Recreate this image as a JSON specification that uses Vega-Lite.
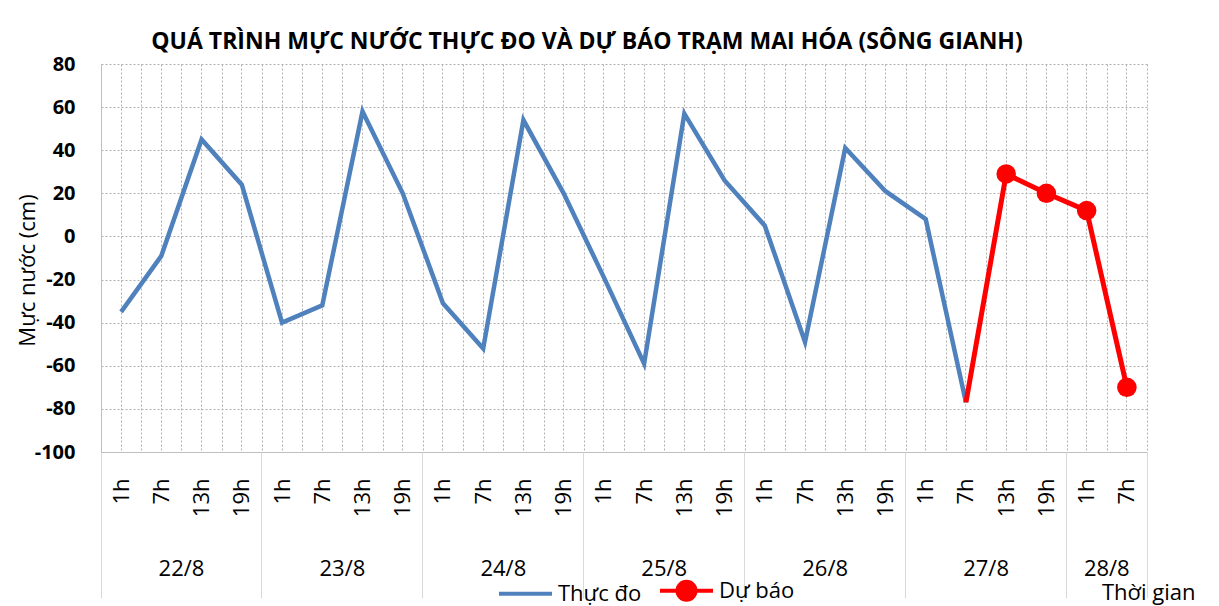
{
  "$schema": "https://vega.github.io/schema/vega-lite/v6.json",
  "width": 1046,
  "height": 388,
  "autosize": {"type": "none"},
  "padding": {"left": 101, "top": 64, "right": 72, "bottom": 154},
  "background": "white",
  "title": {
    "text": "QUÁ TRÌNH MỰC NƯỚC THỰC ĐO VÀ DỰ BÁO TRẠM MAI HÓA (SÔNG GIANH)",
    "font": "Open Sans",
    "fontSize": 23,
    "fontWeight": "bold",
    "color": "#000000",
    "anchor": "middle",
    "frame": "group",
    "baseline": "alphabetic",
    "offset": -18,
    "dx": -37
  },
  "config": {
    "view": {"stroke": null},
    "font": "Open Sans",
    "axis": {"labelColor": "#000000", "titleColor": "#000000", "labelFont": "Open Sans", "titleFont": "Open Sans"}
  },
  "data": {
    "values": [
      {"time": "22/8 1h", "series": "Thực đo", "value": -35},
      {"time": "22/8 7h", "series": "Thực đo", "value": -9},
      {"time": "22/8 13h", "series": "Thực đo", "value": 45},
      {"time": "22/8 19h", "series": "Thực đo", "value": 24},
      {"time": "23/8 1h", "series": "Thực đo", "value": -40},
      {"time": "23/8 7h", "series": "Thực đo", "value": -32},
      {"time": "23/8 13h", "series": "Thực đo", "value": 58},
      {"time": "23/8 19h", "series": "Thực đo", "value": 20},
      {"time": "24/8 1h", "series": "Thực đo", "value": -31},
      {"time": "24/8 7h", "series": "Thực đo", "value": -52},
      {"time": "24/8 13h", "series": "Thực đo", "value": 54},
      {"time": "24/8 19h", "series": "Thực đo", "value": 20},
      {"time": "25/8 1h", "series": "Thực đo", "value": -19},
      {"time": "25/8 7h", "series": "Thực đo", "value": -59},
      {"time": "25/8 13h", "series": "Thực đo", "value": 57},
      {"time": "25/8 19h", "series": "Thực đo", "value": 26},
      {"time": "26/8 1h", "series": "Thực đo", "value": 5},
      {"time": "26/8 7h", "series": "Thực đo", "value": -49},
      {"time": "26/8 13h", "series": "Thực đo", "value": 41},
      {"time": "26/8 19h", "series": "Thực đo", "value": 21},
      {"time": "27/8 1h", "series": "Thực đo", "value": 8},
      {"time": "27/8 7h", "series": "Thực đo", "value": -77},
      {"time": "27/8 7h", "series": "Dự báo", "value": -77},
      {"time": "27/8 13h", "series": "Dự báo", "value": 29},
      {"time": "27/8 19h", "series": "Dự báo", "value": 20},
      {"time": "28/8 1h", "series": "Dự báo", "value": 12},
      {"time": "28/8 7h", "series": "Dự báo", "value": -70}
    ]
  },
  "encoding": {
    "y": {
      "field": "value",
      "type": "quantitative",
      "scale": {"domain": [-100, 80], "nice": false, "zero": false},
      "axis": {
        "title": "Mực nước (cm)",
        "titleFontSize": 22,
        "titleFontWeight": "normal",
        "titlePadding": -5,
        "titleY": 206,
        "values": [-100, -80, -60, -40, -20, 0, 20, 40, 60, 80],
        "labelExpr": "replace(datum.label, '−', '-')",
        "labelFontSize": 20,
        "labelFontWeight": "bold",
        "labelPadding": 26,
        "ticks": false,
        "domain": true,
        "domainColor": "#bfbfbf",
        "grid": true,
        "gridColor": "#b0b0b0",
        "gridDash": [2, 2]
      }
    }
  },
  "layer": [
    {
      "transform": [{"filter": "datum.series === 'Thực đo'"}],
      "mark": {"type": "line", "strokeWidth": 4.5, "strokeJoin": "miter"},
      "encoding": {
        "x": {
          "field": "time",
          "type": "ordinal",
          "scale": {
            "type": "band",
            "paddingInner": 0,
            "paddingOuter": 0,
            "domain": ["22/8 1h", "22/8 7h", "22/8 13h", "22/8 19h", "23/8 1h", "23/8 7h", "23/8 13h", "23/8 19h", "24/8 1h", "24/8 7h", "24/8 13h", "24/8 19h", "25/8 1h", "25/8 7h", "25/8 13h", "25/8 19h", "26/8 1h", "26/8 7h", "26/8 13h", "26/8 19h", "27/8 1h", "27/8 7h", "27/8 13h", "27/8 19h", "28/8 1h", "28/8 7h"]
          },
          "axis": {
            "orient": "bottom",
            "labelExpr": "split(datum.value, ' ')[1]",
            "labelAngle": -90,
            "labelFontSize": 22,
            "labelPadding": 26,
            "labelOverlap": false,
            "ticks": false,
            "domain": true,
            "domainColor": "#bfbfbf",
            "grid": true,
            "tickBand": "extent",
            "gridColor": "#b0b0b0",
            "gridDash": [2, 2],
            "title": "Thời gian",
            "titleFontSize": 22,
            "titleFontWeight": "normal",
            "titleAlign": "right",
            "titleBaseline": "alphabetic",
            "titleAnchor": null,
            "titleX": 1094,
            "titleY": 147
          }
        },
        "color": {
          "field": "series",
          "type": "nominal",
          "scale": {"domain": ["Thực đo", "Dự báo"], "range": ["#4f81bd", "#ff0000"]},
          "legend": {
            "title": null,
            "orient": "none",
            "direction": "horizontal",
            "legendX": 396,
            "legendY": 498,
            "labelFontSize": 22,
            "labelColor": "#000000",
            "labelOffset": 4,
            "columnPadding": 10,
            "symbolSize": 2809,
            "symbolStrokeWidth": 4,
            "encode": {
              "symbols": {
                "update": {
                  "shape": {"signal": "datum.value === 'Dự báo' ? 'M-1,0H-0.34A0.34,0.34 0 1,1 0.34,0A0.34,0.34 0 1,1 -0.34,0M0.34,0H1' : 'M-1,0H1'"},
                  "fill": {"signal": "datum.value === 'Dự báo' ? '#ff0000' : 'transparent'"}
                }
              }
            }
          }
        }
      }
    },
    {
      "transform": [{"filter": "datum.series === 'Dự báo'"}],
      "mark": {"type": "line", "strokeWidth": 5, "strokeJoin": "miter"},
      "encoding": {
        "x": {
          "field": "time",
          "type": "ordinal",
          "axis": {
            "orient": "bottom",
            "labelExpr": "indexof(['22/8 13h','23/8 13h','24/8 13h','25/8 13h','26/8 13h','27/8 13h','28/8 7h'], datum.value) >= 0 ? split(datum.value, ' ')[0] : ''",
            "labelAngle": 0,
            "labelBaseline": "top",
            "labelAlign": "center",
            "labelOffset": -20.1,
            "labelPadding": 106,
            "labelFontSize": 22,
            "labelOverlap": false,
            "ticks": false,
            "domain": false,
            "grid": true,
            "gridColor": "#b0b0b0",
            "gridDash": [2, 2],
            "title": null
          }
        },
        "color": {"field": "series", "type": "nominal"}
      }
    },
    {
      "transform": [{"filter": "datum.series === 'Dự báo' && datum.time !== '27/8 7h'"}],
      "mark": {"type": "point", "filled": true, "size": 380, "color": "#ff0000", "opacity": 1},
      "encoding": {
        "x": {
          "field": "time",
          "type": "ordinal",
          "axis": {
            "orient": "bottom",
            "values": ["22/8 1h", "22/8 19h", "23/8 19h", "24/8 19h", "25/8 19h", "26/8 19h", "27/8 19h", "28/8 7h"],
            "bandPosition": 1,
            "tickExtra": true,
            "labels": false,
            "domain": false,
            "grid": false,
            "ticks": true,
            "tickColor": "#d9d9d9",
            "tickWidth": 1,
            "tickSize": {"condition": {"test": "datum.value === '22/8 1h'", "value": 0}, "value": 146},
            "title": null
          }
        }
      }
    }
  ],
  "resolve": {"axis": {"x": "independent"}}
}
